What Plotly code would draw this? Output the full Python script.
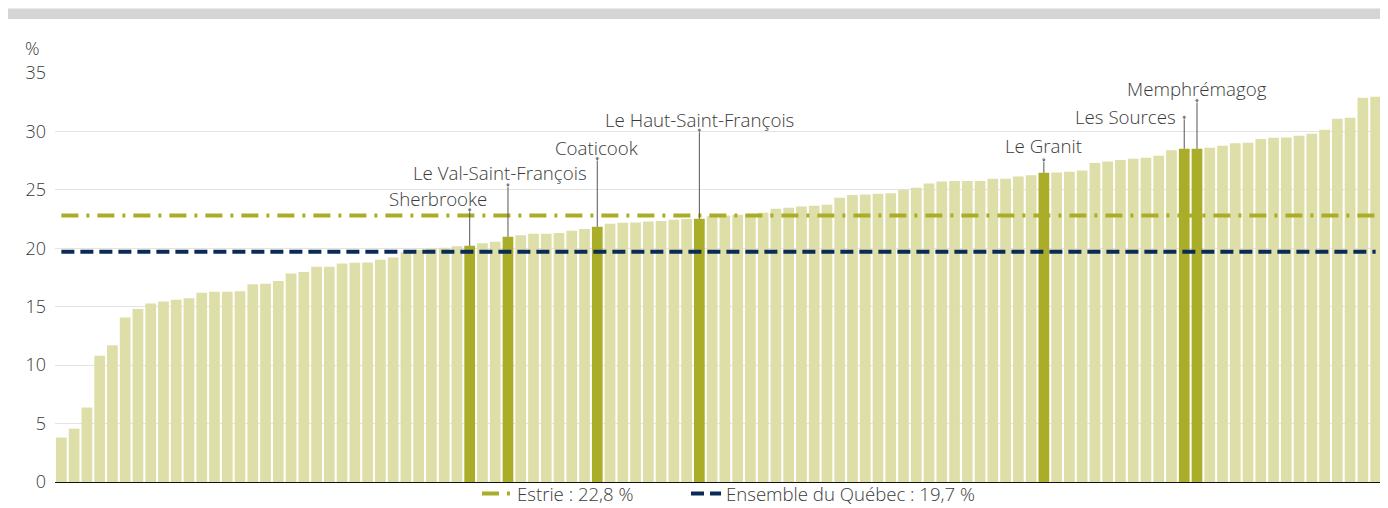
import plotly.graph_objects as go

# ---- data ----
values = [3.8, 4.57, 6.37, 10.8, 11.7, 14.07, 14.8, 15.27, 15.44, 15.59,
          15.73, 16.19, 16.27, 16.27, 16.33, 16.93, 16.96, 17.19, 17.84, 17.96,
          18.41, 18.41, 18.70, 18.76, 18.78, 19.01, 19.21, 19.67, 19.88, 19.95,
          20.05, 20.18, 20.21, 20.44, 20.55, 20.98, 21.12, 21.24, 21.24, 21.30,
          21.50, 21.64, 21.84, 22.10, 22.18, 22.21, 22.30, 22.33, 22.44, 22.50,
          22.52, 22.75, 22.81, 22.87, 22.89, 23.04, 23.38, 23.47, 23.58, 23.64,
          23.72, 24.32, 24.55, 24.61, 24.66, 24.72, 24.98, 25.18, 25.55, 25.72,
          25.75, 25.75, 25.75, 25.95, 25.95, 26.15, 26.26, 26.46, 26.49, 26.55,
          26.66, 27.29, 27.43, 27.55, 27.66, 27.75, 27.92, 28.40, 28.52, 28.52,
          28.60, 28.77, 28.98, 29.03, 29.35, 29.46, 29.49, 29.63, 29.80, 30.15,
          31.09, 31.17, 32.89, 32.97]

highlight_names = ["Sherbrooke", "Le Val-Saint-François", "Coaticook",
                   "Le Haut-Saint-François", "Le Granit", "Les Sources", "Memphrémagog"]
highlight_idx = [32, 35, 42, 50, 77, 88, 89]

estrie_value = 22.8
quebec_value = 19.7
estrie_name = "Estrie : 22,8 %"
quebec_name = "Ensemble du Québec : 19,7 %"

y_ticks = [0, 5, 10, 15, 20, 25, 30, 35]

# ---- styling ----
LIGHT = "#DEDEA9"
DARK = "#AAAD27"
NAVY = "#0B2B57"
TEXT = "#3A3A3A"
FONT = "Open Sans"

# leader line tops and label positions (layout/styling)
leader_top = [23.3, 25.43, 27.68, 30.11, 27.57, 31.22, 32.65]
label_y = [24.26, 26.48, 28.62, 31.05, 28.79, 31.3, 33.65]
label_dx = [1.48, -0.65, 0, 0, 0, -0.45, 0]      # x offset (in bar units)
label_anchor = ["right", "center", "center", "center", "center", "right", "center"]

n = len(values)
xs = list(range(n))
colors = [DARK if i in highlight_idx else LIGHT for i in xs]

fig = go.Figure()
fig.add_trace(go.Bar(x=xs, y=values, marker=dict(color=colors, line=dict(width=0)),
                     showlegend=False, hoverinfo="y"))

fig.add_trace(go.Scatter(x=[xs[0], xs[-1]], y=[estrie_value, estrie_value], mode="lines",
                         line=dict(color=DARK, width=4, dash="17px,8px,3px,8px"),
                         name=estrie_name, legend="legend"))
fig.add_trace(go.Scatter(x=[xs[0], xs[-1]], y=[quebec_value, quebec_value], mode="lines",
                         line=dict(color=NAVY, width=4, dash="13px,6px"),
                         name=quebec_name, legend="legend2"))

for k, idx in enumerate(highlight_idx):
    fig.add_trace(go.Scatter(x=[idx, idx], y=[values[idx], leader_top[k]],
                             mode="lines+markers",
                             line=dict(color="#555555", width=1),
                             marker=dict(size=[0, 4], color="#555555"),
                             showlegend=False, hoverinfo="skip"))
    fig.add_annotation(x=idx + label_dx[k], y=label_y[k], text=highlight_names[k],
                       showarrow=False, xanchor=label_anchor[k], yanchor="middle",
                       font=dict(family=FONT, size=18.7, color=TEXT, weight=300))

fig.add_annotation(xref="paper", yref="paper", x=-0.0166, y=1.06, text="%",
                   showarrow=False, xanchor="center", yanchor="middle",
                   font=dict(family=FONT, size=18, color=TEXT, weight=300))

fig.add_shape(type="rect", xref="paper", yref="paper", x0=-0.0354, x1=1.0015,
              y0=1.132, y1=1.158, fillcolor="#D5D5D5", line=dict(width=0), layer="below")

legend_common = dict(orientation="h", xanchor="left", xref="paper",
                     y=0.066, yanchor="top", yref="container",
                     font=dict(family=FONT, size=18.6, color=TEXT, weight=300),
                     bgcolor="rgba(0,0,0,0)", itemwidth=30)

fig.update_layout(
    width=1380, height=500,
    margin=dict(l=47, r=6, t=65, b=26, autoexpand=False),
    paper_bgcolor="white", plot_bgcolor="white",
    bargap=0.16,
    font=dict(family=FONT, color=TEXT),
    legend=dict(x=(477 - 55) / 1327, **legend_common),
    legend2=dict(x=(686 - 55) / 1327, **legend_common),
    xaxis=dict(range=[-0.5, n - 0.5], showgrid=False, zeroline=False,
               showticklabels=False, showline=True, linecolor="#111111", linewidth=1,
               ticks="", automargin=False),
    yaxis=dict(range=[0, 35], tickvals=y_ticks, showgrid=True, gridcolor="#E3E3E3",
               gridwidth=1, zeroline=False, showline=False, ticks="",
               ticklabelstandoff=8, automargin=False,
               tickfont=dict(family=FONT, size=18, color=TEXT, weight=300)),
    hovermode=False,
)

fig.write_html("out.html")
